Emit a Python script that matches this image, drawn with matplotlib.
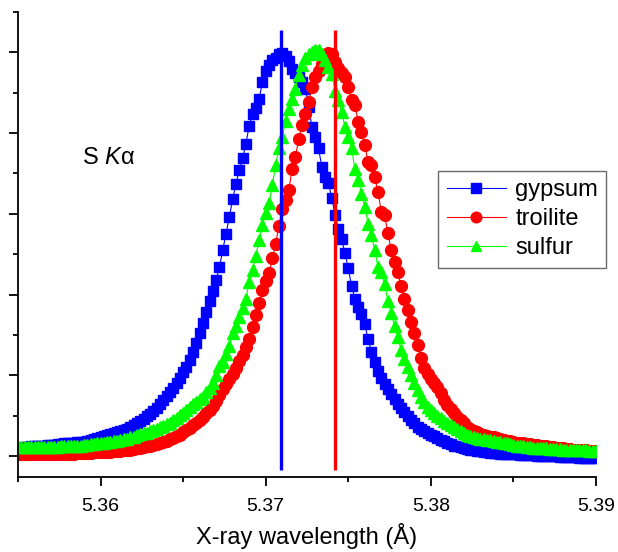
import numpy as np
import matplotlib
matplotlib.use("Agg")
import matplotlib.pyplot as plt
from matplotlib.ticker import MultipleLocator

plt.rcParams['font.family'] = ['Liberation Sans', 'DejaVu Sans']
plt.rcParams['mathtext.fontset'] = 'custom'
plt.rcParams['mathtext.it'] = 'Liberation Sans:italic'
plt.rcParams['mathtext.rm'] = 'Liberation Sans'

# wavelength grid of the scan (A), 0.0002 A steps from 5.355 to 5.390
wavelength = np.round(5.355 + 0.0002 * np.arange(176), 4)

# normalised intensities
gypsum = [
    0.020, 0.021, 0.022, 0.023, 0.024, 0.025, 0.025, 0.026, 0.026, 0.027,
    0.027, 0.028, 0.029, 0.030, 0.031, 0.032, 0.033, 0.033, 0.034, 0.034,
    0.035, 0.037, 0.039, 0.042, 0.044, 0.047, 0.049, 0.052, 0.055, 0.057,
    0.060, 0.062, 0.065, 0.068, 0.071, 0.076, 0.081, 0.087, 0.092, 0.098,
    0.104, 0.112, 0.119, 0.129, 0.139, 0.149, 0.158, 0.169, 0.182, 0.194,
    0.207, 0.220, 0.238, 0.257, 0.280, 0.304, 0.329, 0.358, 0.384, 0.408,
    0.436, 0.469, 0.510, 0.551, 0.593, 0.636, 0.675, 0.708, 0.738, 0.774,
    0.818, 0.847, 0.861, 0.885, 0.926, 0.955, 0.968, 0.980, 0.986, 0.995,
    0.998, 0.990, 0.978, 0.960, 0.950, 0.940, 0.926, 0.910, 0.865, 0.815,
    0.790, 0.762, 0.716, 0.691, 0.676, 0.639, 0.597, 0.563, 0.537, 0.502,
    0.466, 0.420, 0.390, 0.370, 0.352, 0.326, 0.290, 0.258, 0.233, 0.211,
    0.193, 0.179, 0.166, 0.153, 0.142, 0.130, 0.119, 0.109, 0.099, 0.090,
    0.081, 0.073, 0.068, 0.062, 0.057, 0.053, 0.049, 0.044, 0.040, 0.036,
    0.033, 0.029, 0.026, 0.024, 0.022, 0.019, 0.017, 0.015, 0.014, 0.013,
    0.012, 0.011, 0.009, 0.008, 0.007, 0.007, 0.006, 0.006, 0.005, 0.005,
    0.004, 0.004, 0.003, 0.003, 0.002, 0.002, 0.002, 0.001, 0.001, 0.000,
    0.000, 0.000, -0.001, -0.001, -0.002, -0.002, -0.002, -0.003, -0.003, -0.003,
    -0.004, -0.004, -0.004, -0.005, -0.005, -0.005,
]

troilite = [
    0.005, 0.005, 0.005, 0.005, 0.005, 0.005, 0.005, 0.005, 0.005, 0.005,
    0.005, 0.005, 0.005, 0.006, 0.006, 0.006, 0.006, 0.006, 0.007, 0.007,
    0.007, 0.008, 0.008, 0.009, 0.010, 0.010, 0.011, 0.011, 0.011, 0.012,
    0.013, 0.013, 0.014, 0.015, 0.016, 0.018, 0.019, 0.021, 0.023, 0.024,
    0.026, 0.028, 0.030, 0.032, 0.035, 0.038, 0.041, 0.045, 0.049, 0.053,
    0.059, 0.064, 0.070, 0.076, 0.082, 0.089, 0.097, 0.106, 0.115, 0.125,
    0.137, 0.151, 0.165, 0.178, 0.190, 0.203, 0.218, 0.235, 0.250, 0.270,
    0.291, 0.320, 0.349, 0.380, 0.411, 0.433, 0.453, 0.490, 0.526, 0.570,
    0.613, 0.634, 0.658, 0.712, 0.741, 0.786, 0.819, 0.848, 0.877, 0.915,
    0.940, 0.955, 0.970, 0.993, 0.998, 0.995, 0.976, 0.962, 0.950, 0.940,
    0.915, 0.881, 0.869, 0.828, 0.802, 0.770, 0.728, 0.720, 0.691, 0.654,
    0.605, 0.597, 0.552, 0.510, 0.480, 0.455, 0.420, 0.390, 0.362, 0.332,
    0.305, 0.275, 0.242, 0.219, 0.203, 0.192, 0.182, 0.172, 0.155, 0.140,
    0.126, 0.116, 0.106, 0.097, 0.089, 0.081, 0.073, 0.068, 0.063, 0.059,
    0.055, 0.053, 0.050, 0.048, 0.046, 0.044, 0.042, 0.040, 0.038, 0.036,
    0.034, 0.033, 0.032, 0.031, 0.030, 0.029, 0.028, 0.027, 0.026, 0.025,
    0.024, 0.023, 0.022, 0.021, 0.020, 0.019, 0.018, 0.017, 0.016, 0.015,
    0.015, 0.014, 0.014, 0.013, 0.013, 0.012,
]

sulfur = [
    0.022, 0.022, 0.022, 0.023, 0.023, 0.023, 0.023, 0.023, 0.023, 0.023,
    0.023, 0.023, 0.023, 0.024, 0.024, 0.024, 0.025, 0.025, 0.026, 0.026,
    0.027, 0.028, 0.029, 0.030, 0.031, 0.032, 0.033, 0.034, 0.035, 0.037,
    0.038, 0.040, 0.042, 0.043, 0.046, 0.048, 0.051, 0.054, 0.056, 0.058,
    0.061, 0.064, 0.067, 0.071, 0.075, 0.079, 0.083, 0.089, 0.095, 0.101,
    0.107, 0.114, 0.121, 0.128, 0.135, 0.141, 0.146, 0.159, 0.169, 0.180,
    0.200, 0.222, 0.233, 0.252, 0.272, 0.304, 0.323, 0.345, 0.367, 0.390,
    0.430, 0.462, 0.495, 0.535, 0.573, 0.601, 0.626, 0.671, 0.720, 0.762,
    0.790, 0.830, 0.860, 0.885, 0.910, 0.945, 0.968, 0.985, 0.995, 1.002,
    1.005, 1.005, 0.995, 0.980, 0.964, 0.947, 0.905, 0.881, 0.852, 0.815,
    0.790, 0.762, 0.712, 0.683, 0.650, 0.617, 0.576, 0.547, 0.510, 0.469,
    0.455, 0.425, 0.385, 0.355, 0.322, 0.295, 0.262, 0.240, 0.220, 0.200,
    0.181, 0.163, 0.147, 0.133, 0.122, 0.114, 0.106, 0.099, 0.093, 0.087,
    0.081, 0.076, 0.071, 0.066, 0.061, 0.056, 0.053, 0.050, 0.047, 0.044,
    0.043, 0.042, 0.040, 0.039, 0.038, 0.035, 0.034, 0.032, 0.031, 0.029,
    0.027, 0.026, 0.025, 0.024, 0.023, 0.022, 0.021, 0.020, 0.020, 0.019,
    0.019, 0.018, 0.018, 0.017, 0.017, 0.016, 0.016, 0.016, 0.015, 0.015,
    0.015, 0.014, 0.014, 0.013, 0.013, 0.013,
]

xtick_labels = ['5.36', '5.37', '5.38', '5.39']

# peak positions marked by vertical lines
peak_gypsum = 5.3709
peak_troilite = 5.3742

fig = plt.figure(figsize=(6.18, 5.52), dpi=100)
ax = fig.add_axes([18 / 618, 75 / 552, 578 / 618, 465 / 552])

ax.plot(wavelength, gypsum, color='#0000ff', lw=0.8, marker='s', ms=7.3,
        mec='#0000ff', mfc='#0000ff', label='gypsum')
ax.plot(wavelength, troilite, color='#ff0000', lw=0.8, marker='o', ms=8.5,
        mec='#ff0000', mfc='#ff0000', label='troilite')
ax.plot(wavelength, sulfur, color='#00ff00', lw=0.8, marker='^', ms=8.5,
        mec='#00ff00', mfc='#00ff00', label='sulfur')

ax.vlines(peak_gypsum, -0.035, 1.055, color='#0000ff', lw=2.4, zorder=5)
ax.vlines(peak_troilite, -0.035, 1.055, color='#ff0000', lw=2.4, zorder=5)

ax.set_xlim(5.355, 5.39)
ax.set_ylim(-0.052, 1.1)
ax.set_xticks([5.36, 5.37, 5.38, 5.39])
ax.set_xticklabels(xtick_labels)
ax.xaxis.set_minor_locator(MultipleLocator(0.005))
ax.yaxis.set_major_locator(MultipleLocator(0.2))
ax.yaxis.set_minor_locator(MultipleLocator(0.1))
ax.yaxis.set_ticklabels([])
ax.tick_params(axis='both', which='major', length=6.8, width=1.3, direction='out',
               labelsize=14, pad=8)
ax.tick_params(axis='both', which='minor', length=3.6, width=1.3, direction='out')

for side in ['top', 'right']:
    ax.spines[side].set_visible(False)
for side in ['left', 'bottom']:
    ax.spines[side].set_linewidth(1.3)

ax.set_xlabel('X-ray wavelength (Å)', fontsize=17, labelpad=6)
ax.text(5.3589, 0.738, 'S $K$α', fontsize=17, va='center', ha='left')

leg = ax.legend(loc='upper left', bbox_to_anchor=(0.727, 0.659), borderaxespad=0,
                fontsize=17, frameon=True, fancybox=False, edgecolor='#444444',
                handlelength=2.5, handletextpad=0.4, labelspacing=0.3,
                borderpad=0.36, markerscale=0.9)
leg.get_frame().set_linewidth(1.0)

fig.savefig('out.png', dpi=100)
